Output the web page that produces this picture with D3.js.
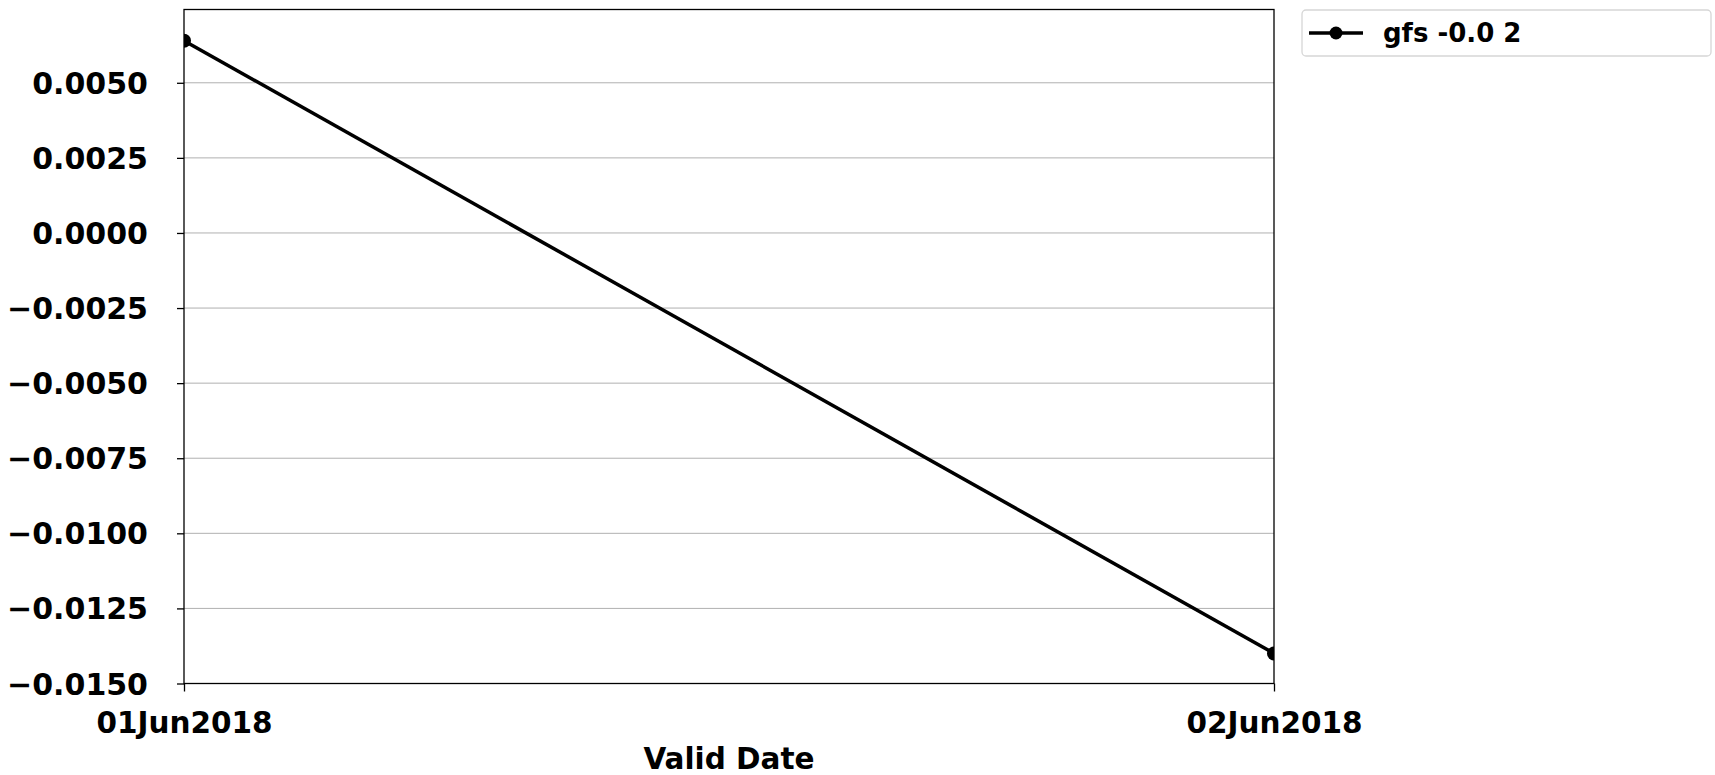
<!DOCTYPE html>
<html>
<head>
<meta charset="utf-8">
<script src="https://cdnjs.cloudflare.com/ajax/libs/d3/7.8.5/d3.min.js"></script>
<style>
    body { margin: 0; background: #fff; }
    text { font-family: "DejaVu Sans", sans-serif; font-weight: bold; }
</style>
</head>
<body>
<div id="chart"></div>
<script>
// data
const dates = ["2018-06-01", "2018-06-02"];
const values = [0.0064, -0.0140];
const seriesName = "gfs -0.0 2";
const yTicks = [0.005, 0.0025, 0, -0.0025, -0.005, -0.0075, -0.01, -0.0125, -0.015];

drawChart();

function drawChart() {
    const W = 1715, H = 775;
    const margin = { top: 9.5, right: 441, bottom: 91.5, left: 184 };
    const width = W - margin.left - margin.right;
    const height = H - margin.top - margin.bottom;

    const parse = d3.timeParse("%Y-%m-%d");
    const data = dates.map((d, i) => ({ date: parse(d), value: values[i] }));

    const svg = d3.select("#chart").append("svg")
        .attr("width", W)
        .attr("height", H);

    // 裁剪区域，点和线不超出坐标框
    svg.append("defs").append("clipPath")
        .attr("id", "plot-clip")
        .append("rect")
        .attr("width", width)
        .attr("height", height);

    const g = svg.append("g")
        .attr("transform", `translate(${margin.left},${margin.top})`);

    // X axis
    const x = d3.scaleTime()
        .domain(d3.extent(data, d => d.date))
        .range([0, width]);

    // Y axis
    const y = d3.scaleLinear()
        .domain([-0.015, 0.00744])
        .range([height, 0]);

    // gridlines
    g.append("g")
        .selectAll("line")
        .data(yTicks)
        .enter().append("line")
        .attr("x1", 0)
        .attr("x2", width)
        .attr("y1", d => y(d))
        .attr("y2", d => y(d))
        .attr("stroke", "#b0b0b0")
        .attr("stroke-width", 1);

    const fmtY = d => d3.format(".4f")(d).replace("-", "\u2212");

    const yAxis = g.append("g")
        .call(d3.axisLeft(y).tickValues(yTicks).tickFormat(fmtY).tickSize(7).tickPadding(29));
    yAxis.select(".domain").remove();
    yAxis.selectAll("line").attr("stroke", "#000").attr("stroke-width", 1.3);
    yAxis.selectAll("text").attr("font-size", 30).attr("fill", "#000").attr("dy", "0.35em");

    const xAxis = g.append("g")
        .attr("transform", `translate(0,${height})`)
        .call(d3.axisBottom(x).tickValues(data.map(d => d.date))
            .tickFormat(d3.timeFormat("%d%b%Y")).tickSize(8).tickPadding(21));
    xAxis.select(".domain").remove();
    xAxis.selectAll("line").attr("stroke", "#000").attr("stroke-width", 1.3);
    xAxis.selectAll("text").attr("font-size", 29.5).attr("fill", "#000");

    // line
    const line = d3.line()
        .x(d => x(d.date))
        .y(d => y(d.value));

    const plot = g.append("g").attr("clip-path", "url(#plot-clip)");

    plot.append("path")
        .datum(data)
        .attr("d", line)
        .attr("fill", "none")
        .attr("stroke", "#000")
        .attr("stroke-width", 3.5);

    plot.selectAll(".pt")
        .data(data)
        .enter().append("circle")
        .attr("class", "pt")
        .attr("cx", d => x(d.date))
        .attr("cy", d => y(d.value))
        .attr("r", 7)
        .attr("fill", "#000");

    // frame
    g.append("rect")
        .attr("width", width)
        .attr("height", height)
        .attr("fill", "none")
        .attr("stroke", "#000")
        .attr("stroke-width", 1.3);

    // x label
    svg.append("text")
        .attr("x", margin.left + width / 2)
        .attr("y", 769)
        .attr("text-anchor", "middle")
        .attr("font-size", 29.5)
        .attr("fill", "#000")
        .text("Valid Date");

    // legend
    const lg = svg.append("g").attr("transform", "translate(1302,10)");
    lg.append("rect")
        .attr("width", 409)
        .attr("height", 46)
        .attr("rx", 4)
        .attr("fill", "#fff")
        .attr("stroke", "#d6d6d6")
        .attr("stroke-width", 1.3);
    lg.append("line")
        .attr("x1", 7).attr("x2", 61)
        .attr("y1", 23).attr("y2", 23)
        .attr("stroke", "#000")
        .attr("stroke-width", 3.5);
    lg.append("circle")
        .attr("cx", 34).attr("cy", 23).attr("r", 6.5)
        .attr("fill", "#000");
    lg.append("text")
        .attr("x", 81)
        .attr("y", 23)
        .attr("dy", "0.35em")
        .attr("font-size", 26)
        .attr("fill", "#000")
        .text(seriesName);
}
</script>
</body>
</html>
